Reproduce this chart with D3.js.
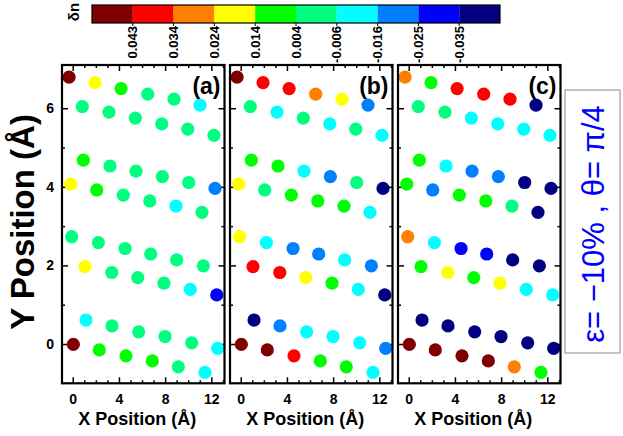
<!DOCTYPE html>
<html>
<head>
<meta charset="utf-8">
<script src="https://cdn.jsdelivr.net/npm/d3@7"></script>
<style>
  body { margin: 0; background: #fff; }
  svg { display: block; font-family: Arial, "Liberation Sans", sans-serif; }
  .tick text { font-weight: bold; font-size: 14px; }
</style>
</head>
<body>
<div id="chart"></div>
<script>
/****************************************/
/*****  Data   *****/
/****************************************/
// colour scale (delta n), dark red -> navy
const cbColors = ['#800000', '#ff0000', '#ff8000', '#ffff00', '#00ff00',
                  '#00ff80', '#00ffff', '#0080ff', '#0000ff', '#000080'];
const cbLabels = ['0.043', '0.034', '0.024', '0.014', '0.004', '-0.006', '-0.016', '-0.025', '-0.035'];

const xTicks = [0, 4, 8, 12];
const xMinor = [1, 2, 3, 5, 6, 7, 9, 10, 11, 13];
const yTicks = [0, 2, 4, 6];
const yMinor = [1, 3, 5];

// atom positions, 4 chains, each an upper and a lower row of 6
const atomX = [
  -0.32, 1.93, 4.19, 6.49, 8.77, 11.02,
  0.83, 3.14, 5.42, 7.71, 9.96, 12.23,
  0.92, 3.23, 5.48, 7.76, 10.04, 12.32,
  -0.17, 2.08, 4.38, 6.67, 8.94, 11.19,
  -0.09, 2.22, 4.53, 6.75, 9.0, 11.31,
  1.06, 3.38, 5.63, 7.9, 10.18, 12.47,
  1.15, 3.4, 5.71, 7.99, 10.3, 12.55,
  0.05, 2.3, 4.61, 6.89, 9.14, 11.45
];
const atomY = [
  6.79, 6.65, 6.50, 6.36, 6.23, 6.08,
  6.04, 5.90, 5.75, 5.60, 5.47, 5.31,
  4.68, 4.53, 4.40, 4.26, 4.11, 3.96,
  4.07, 3.92, 3.79, 3.64, 3.51, 3.35,
  2.73, 2.58, 2.43, 2.29, 2.14, 1.99,
  1.97, 1.82, 1.69, 1.55, 1.39, 1.25,
  0.61, 0.46, 0.31, 0.19, 0.03, -0.11,
  -0.01, -0.15, -0.30, -0.43, -0.58, -0.72
];

// colour bin of every atom (index into cbColors)
const binsA = [
  0, 3, 4, 5, 5, 6,
  5, 5, 5, 5, 5, 5,
  4, 5, 5, 5, 5, 7,
  3, 4, 5, 5, 6, 5,
  5, 5, 5, 5, 5, 5,
  3, 5, 5, 5, 6, 8,
  6, 5, 5, 5, 5, 6,
  0, 4, 4, 4, 5, 6
];
const binsB = [
  0, 1, 1, 2, 3, 7,
  5, 6, 5, 6, 5, 6,
  4, 4, 6, 7, 5, 9,
  3, 5, 4, 4, 4, 6,
  3, 6, 7, 7, 6, 7,
  1, 1, 3, 4, 6, 9,
  9, 7, 6, 6, 6, 7,
  0, 0, 1, 4, 4, 6
];
const binsC = [
  2, 4, 1, 1, 1, 9,
  5, 5, 6, 6, 6, 6,
  4, 6, 7, 7, 9, 9,
  4, 7, 4, 4, 5, 9,
  2, 6, 8, 8, 9, 9,
  4, 3, 4, 3, 6, 6,
  9, 9, 9, 9, 9, 9,
  0, 0, 0, 0, 2, 4
];

const panels = [
  { label: '(a)', bins: binsA },
  { label: '(b)', bins: binsB },
  { label: '(c)', bins: binsC }
];

/****************************************/
/*****  Layout   *****/
/****************************************/
const width = 623;
const height = 436;
const panelLefts = [62, 230, 398];
const panelWidth = 162.5;
const panelTop = 65;
const panelBottom = 383.3;

const svg = d3.select('#chart')
  .append('svg')
    .attr('width', width)
    .attr('height', height);

const x = d3.scaleLinear()
  .domain([-0.93, 13.14])
  .range([0, panelWidth]);

const y = d3.scaleLinear()
  .domain([-1, 7.1])
  .range([panelBottom, panelTop]);

/****************************************/
/*****  Colour bar   *****/
/****************************************/
const cb = d3.scaleLinear()
  .domain([0, cbColors.length])
  .range([92, 500]);

svg.append('g')
  .selectAll('rect')
  .data(cbColors)
  .join('rect')
    .attr('x', (d, i) => cb(i))
    .attr('y', 5)
    .attr('width', cb(1) - cb(0))
    .attr('height', 18)
    .attr('fill', d => d);

svg.append('rect')
  .attr('x', cb(0))
  .attr('y', 5)
  .attr('width', cb(cbColors.length) - cb(0))
  .attr('height', 18)
  .attr('fill', 'none')
  .attr('stroke', '#000')
  .attr('stroke-width', 1.2);

svg.append('g')
  .selectAll('line')
  .data(cbLabels)
  .join('line')
    .attr('x1', (d, i) => cb(i + 1))
    .attr('x2', (d, i) => cb(i + 1))
    .attr('y1', 23)
    .attr('y2', 26)
    .attr('stroke', '#000');

svg.append('g')
  .selectAll('text')
  .data(cbLabels)
  .join('text')
    .attr('transform', (d, i) => `translate(${cb(i + 1)},26) rotate(-90)`)
    .attr('text-anchor', 'end')
    .attr('dy', '0.35em')
    .attr('font-size', 13)
    .attr('font-weight', 'bold')
    .text(d => d);

svg.append('text')
  .attr('transform', 'translate(74,12) rotate(-90)')
  .attr('text-anchor', 'middle')
  .attr('dy', '0.35em')
  .attr('font-size', 15)
  .attr('font-weight', 'bold')
  .text('δn');

/****************************************/
/*****  Panels   *****/
/****************************************/
panels.forEach((p, k) => {
  const g = svg.append('g')
    .attr('transform', `translate(${panelLefts[k]},0)`);

  // ticks, all pointing inward
  const addAxis = (axis, tx, ty) => {
    const a = g.append('g')
      .attr('transform', `translate(${tx},${ty})`)
      .call(axis);
    a.select('.domain').remove();
    a.selectAll('line').attr('stroke-width', 1.5);
    return a;
  };
  addAxis(d3.axisBottom(x).tickValues(xTicks).tickSize(-6).tickPadding(11), 0, panelBottom);
  addAxis(d3.axisBottom(x).tickValues(xMinor).tickSize(-3).tickFormat(''), 0, panelBottom);
  addAxis(d3.axisTop(x).tickValues(xTicks).tickSize(-6).tickFormat(''), 0, panelTop);
  addAxis(d3.axisTop(x).tickValues(xMinor).tickSize(-3).tickFormat(''), 0, panelTop);
  const left = addAxis(d3.axisLeft(y).tickValues(yTicks).tickSize(-6).tickPadding(8), 0, 0);
  if (k > 0) left.selectAll('text').remove();
  addAxis(d3.axisLeft(y).tickValues(yMinor).tickSize(-3).tickFormat(''), 0, 0);
  addAxis(d3.axisRight(y).tickValues(yTicks).tickSize(-6).tickFormat(''), panelWidth, 0);
  addAxis(d3.axisRight(y).tickValues(yMinor).tickSize(-3).tickFormat(''), panelWidth, 0);

  // atoms
  g.append('g')
    .selectAll('circle')
    .data(atomX)
    .join('circle')
      .attr('cx', d => x(d))
      .attr('cy', (d, i) => y(atomY[i]))
      .attr('r', 6.6)
      .attr('fill', (d, i) => cbColors[p.bins[i]]);

  // frame
  g.append('rect')
    .attr('x', 0)
    .attr('y', panelTop)
    .attr('width', panelWidth)
    .attr('height', panelBottom - panelTop)
    .attr('fill', 'none')
    .attr('stroke', '#000')
    .attr('stroke-width', 2.2);

  g.append('text')
    .attr('x', panelWidth - 4)
    .attr('y', 94)
    .attr('text-anchor', 'end')
    .attr('font-size', 23)
    .attr('font-weight', 'bold')
    .text(p.label);

  g.append('text')
    .attr('x', panelWidth / 2 - 6)
    .attr('y', 425)
    .attr('text-anchor', 'middle')
    .attr('font-size', 18)
    .attr('font-weight', 'bold')
    .text('X Position (Å)');
});

// y title
svg.append('text')
  .attr('transform', 'translate(34,222) rotate(-90)')
  .attr('text-anchor', 'middle')
  .attr('font-size', 33)
  .attr('font-weight', 'bold')
  .text('Y Position (Å)');

// parameter box on the right
svg.append('rect')
  .attr('x', 565)
  .attr('y', 90)
  .attr('width', 55)
  .attr('height', 263)
  .attr('fill', '#fff')
  .attr('stroke', '#888')
  .attr('stroke-width', 1);

svg.append('text')
  .attr('transform', 'translate(593,224) rotate(-90)')
  .attr('text-anchor', 'middle')
  .attr('dy', '0.35em')
  .attr('font-size', 31)
  .attr('fill', '#0000ff')
  .text('ε= −10% , θ= π/4');
</script>
</body>
</html>
